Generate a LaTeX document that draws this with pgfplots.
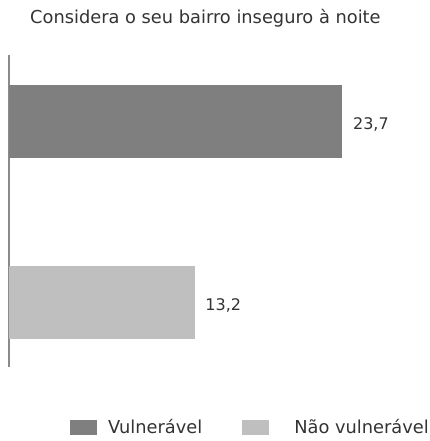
\documentclass[border=0pt]{standalone}
\usepackage{pgfplots}
\pgfplotsset{compat=1.18}
\usepackage{fontspec}
\setmainfont{DejaVu Sans}
\definecolor{darkbar}{HTML}{7F7F7F}
\definecolor{lightbar}{HTML}{BFBFBF}
\definecolor{txt}{HTML}{333333}
\definecolor{axcol}{HTML}{8A8A8A}
\begin{document}
\begin{tikzpicture}
\useasboundingbox (0,0) rectangle (430bp,441bp);
\begin{axis}[
  at={(9bp,74bp)}, anchor=south west,
  scale only axis, width=415bp, height=312bp,
  xmin=0, xmax=29.5, ymin=0, ymax=312,
  xbar, bar width=73bp, bar shift=0pt,
  axis x line=none, axis y line=left,
  axis line style={-, draw=axcol, line width=1.1bp},
  xtick=\empty, ytick=\empty,
  title={Considera o seu bairro inseguro à noite},
  title style={at={(rel axis cs:0.0506,1.083)}, anchor=base west, inner sep=0pt,
    font=\fontsize{17.8bp}{20bp}\selectfont, text=txt},
  nodes near coords,
  /pgf/number format/assume math mode=true,
  /pgf/number format/.cd, use comma, fixed, fixed zerofill, precision=1, /pgfplots/.cd,
  every node near coord/.append style={anchor=west, inner sep=0pt, xshift=10.5bp, yshift=-3bp,
    font=\fontsize{16bp}{18bp}\selectfont, text=txt},
  legend columns=2,
  legend style={at={(rel axis cs:0.147,-0.194)}, anchor=west, draw=none, fill=none,
    inner sep=0pt, nodes={inner sep=0pt, text=txt, font=\fontsize{17.8bp}{20bp}\selectfont},
    /tikz/every even column/.append style={column sep=40bp},
    /tikz/every odd column/.append style={column sep=11bp}},
]
\addplot[fill=darkbar, draw=none,
  legend image code/.code={\fill[darkbar] (0bp,-7.5bp) rectangle (27bp,7.5bp);}]
  coordinates {(23.7,245.5)};
\addlegendentry{Vulnerável}
\addplot[fill=lightbar, draw=none,
  legend image code/.code={\fill[lightbar] (0bp,-7.5bp) rectangle (27bp,7.5bp); \path (41bp,0bp);}]
  coordinates {(13.2,64.5)};
\addlegendentry{Não vulnerável}
\end{axis}
\end{tikzpicture}
\end{document}
